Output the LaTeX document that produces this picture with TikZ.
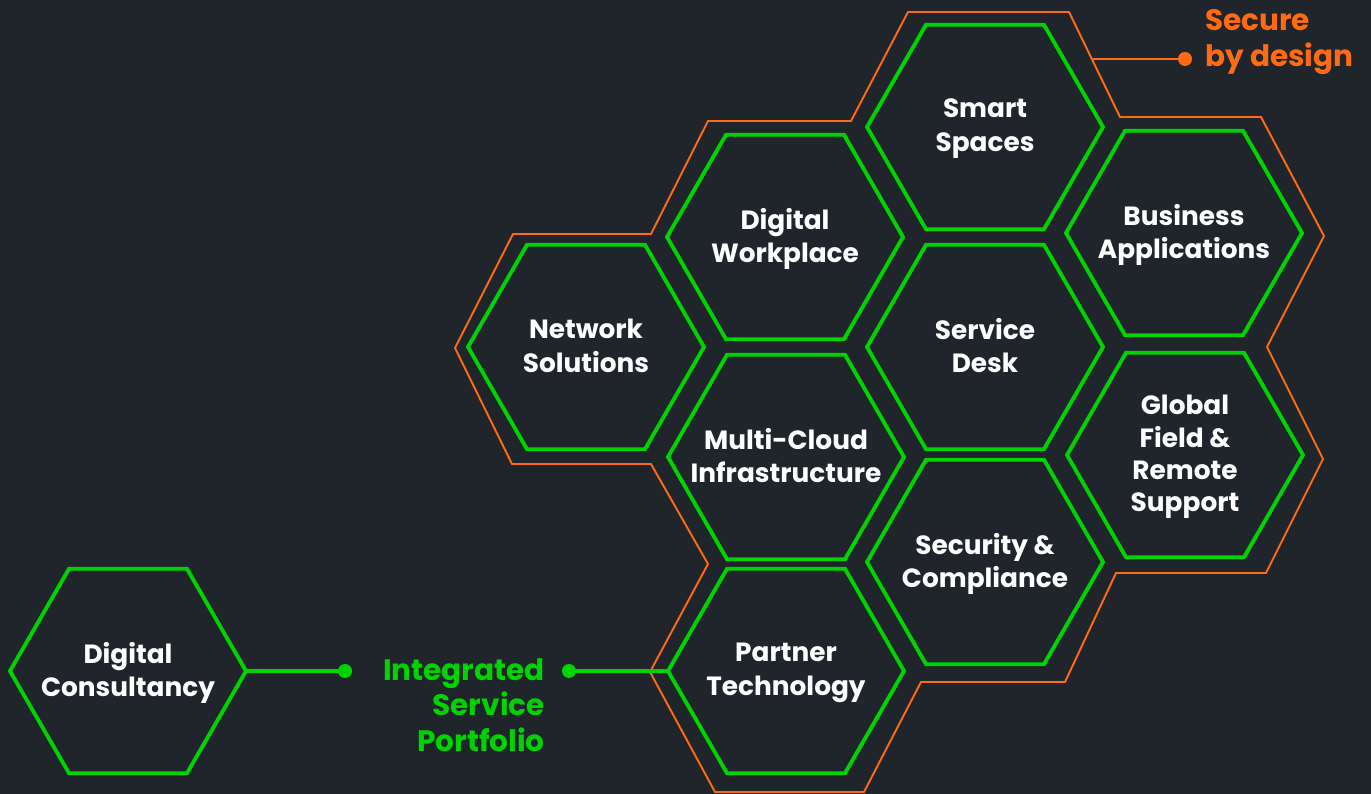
\documentclass[tikz,border=0pt]{standalone}
\usepackage{fontspec}
\setmainfont{Poppins}
\usetikzlibrary{shapes.geometric}
\definecolor{bgdark}{HTML}{1F252B}
\definecolor{hexgreen}{HTML}{00D400}
\definecolor{secorange}{HTML}{FF6A13}
\begin{document}
\begin{tikzpicture}[
    x=0.2mm, y=-0.2mm,
    hexa/.style={regular polygon, regular polygon sides=6, draw=hexgreen, line width=2.2pt,
                 minimum size=47.2mm, inner sep=0pt, outer sep=0pt},
    hextext/.style={text=white, font=\bfseries\fontsize{15}{19.3}\selectfont, align=center,
                    yshift=-0.7mm, execute at end node=\strut},
    sidetext/.style={font=\bfseries\fontsize{16.8}{20.4}\selectfont},
    outline/.style={draw=secorange, line width=1.1pt, line join=miter},
    link/.style={line width=2.2pt},
    dot/.style={circle, fill, inner sep=0pt, minimum size=2.8mm}
]
    % Background
    \fill[bgdark] (0,0) rectangle (1371,794);
    \useasboundingbox (0,0) rectangle (1371,794);

    % Secure by design outline
    \draw[outline] (908,12) -- (1069,12) -- (1120,117) -- (1261,117) -- (1324,236)
        -- (1267,347) -- (1323,459) -- (1266,573) -- (1116,573) -- (1065,682)
        -- (921,682) -- (864,792) -- (715,792) -- (650,672) -- (708,564)
        -- (651,464) -- (512,464) -- (455,348) -- (513,234) -- (651,234)
        -- (708,121) -- (851,121) -- cycle;

    % Hexagons
    \node[hexa] (dc)  at (128,671)  {};
    \node[hexa] (net) at (586,347)  {};
    \node[hexa] (dwp) at (785,237)  {};
    \node[hexa] (mci) at (786,457)  {};
    \node[hexa] (ptn) at (786,671)  {};
    \node[hexa] (sms) at (985,127)  {};
    \node[hexa] (svd) at (985,347)  {};
    \node[hexa] (sec) at (985,562)  {};
    \node[hexa] (bap) at (1184,233) {};
    \node[hexa] (gfr) at (1185,455) {};

    % Hexagon texts
    \node[hextext] at (dc)  {Digital\\Consultancy};
    \node[hextext] at (net) {Network\\Solutions};
    \node[hextext] at (dwp) {Digital\\Workplace};
    \node[hextext] at (mci) {Multi-Cloud\\Infrastructure};
    \node[hextext] at (ptn) {Partner\\Technology};
    \node[hextext] at (sms) {Smart\\Spaces};
    \node[hextext] at (svd) {Service\\Desk};
    \node[hextext] at (sec) {Security \&\\Compliance};
    \node[hextext] at (bap) {Business\\Applications};
    \node[hextext, font=\bfseries\fontsize{15}{18.4}\selectfont] at (gfr)
        {Global\\Field \&\\Remote\\Support};

    % Integrated Service Portfolio
    \node[dot, hexgreen] (dotl) at (345,671) {};
    \node[dot, hexgreen] (dotr) at (569,671) {};
    \draw[link, hexgreen] (dc.east) -- (dotl.center);
    \draw[link, hexgreen] (dotr.center) -- (ptn.west);
    \node[sidetext, text=hexgreen, align=right, anchor=north east] (isp) at (551,652)
        {Integrated\\Service\\Portfolio};

    % Secure by design
    \coordinate (secstart) at (1093,59);
    \node[dot, secorange] (dots) at (1185,59) {};
    \draw[link, secorange, line width=1.6pt] (secstart) -- (dots.center);
    \node[sidetext, text=secorange, align=left, anchor=north west] (sbd) at (1199,3)
        {Secure\\by design};
\end{tikzpicture}
\end{document}
